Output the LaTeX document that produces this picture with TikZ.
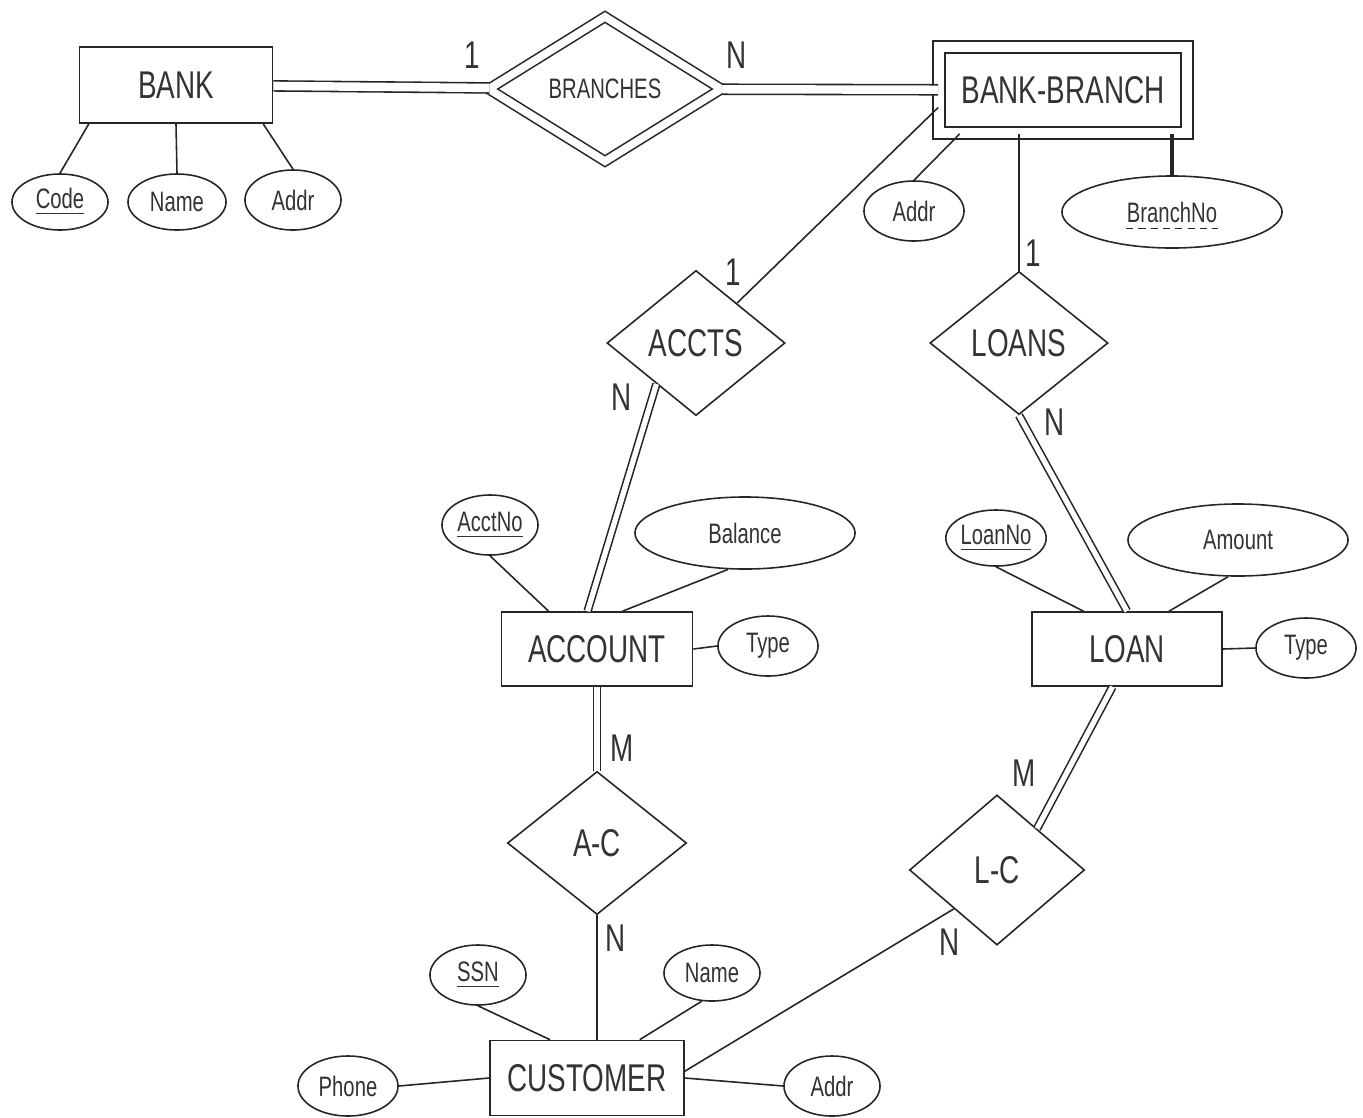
\documentclass[tikz,border=0pt]{standalone}
\usepackage{fontspec}
\setmainfont{Liberation Sans}[FakeStretch=0.72]
\usetikzlibrary{shapes.geometric}
\newcommand\entfont{\fontsize{11}{13}\selectfont}
\newcommand\attfont{\fontsize{8}{10}\selectfont}
\begin{document}
\begin{tikzpicture}[x=0.01cm, y=-0.01cm,
  line width=0.45pt, draw=black!85, text=black!80,
  entity/.style 2 args={rectangle, draw, minimum width=#1, minimum height=#2, inner sep=0pt, font=\entfont},
  weakent/.style 2 args={entity={#1}{#2}, double, double distance=3pt},
  rel/.style 2 args={diamond, draw, minimum width=#1, minimum height=#2, inner sep=0pt, font=\entfont},
  weakrel/.style 2 args={rel={#1}{#2}, double, double distance=2.2pt, font=\attfont},
  attr/.style 2 args={ellipse, draw, minimum width=#1, minimum height=#2, inner sep=0pt, font=\attfont},
  card/.style={inner sep=0pt, font=\entfont},
  dbl/.style={double, double distance=2.4pt},
  dblthin/.style={double, double distance=1.5pt},
  keyline/.style={line width=1.2pt}]

% page
\fill[white] (0,0) rectangle (1363,1117);

% entities
\node[entity={1.93cm}{0.76cm}] (bank) at (176,85) {BANK};
\node[weakent={2.48cm}{0.86cm}] (bb) at (1063,90) {BANK-BRANCH};
\node[entity={1.91cm}{0.74cm}] (account) at (597,649) {ACCOUNT};
\node[entity={1.90cm}{0.74cm}] (loan) at (1127,649) {LOAN};
\node[entity={1.94cm}{0.75cm}] (customer) at (587,1078) {CUSTOMER};

% relationships
\node[weakrel={2.33cm}{1.45cm}] (branches) at (605,89) {BRANCHES};
\node[rel={1.78cm}{1.45cm}] (accts) at (696,343) {ACCTS};
\node[rel={1.78cm}{1.43cm}] (loans) at (1019,343) {LOANS};
\node[rel={1.79cm}{1.43cm}] (ac) at (597,843) {A-C};
\node[rel={1.75cm}{1.50cm}] (lc) at (997,870) {L-C};

% attributes
\node[attr={0.96cm}{0.56cm}] (code) at (60,202) {\underline{Code}};
\node[attr={0.98cm}{0.56cm}] (bname) at (177,202) {Name};
\node[attr={0.96cm}{0.60cm}] (baddr) at (293,200) {Addr};
\node[attr={1.00cm}{0.60cm}] (braddr) at (914,211) {Addr};
\node[attr={2.20cm}{0.72cm}] (branchno) at (1172,212) {};
\node[inner sep=0pt, font=\attfont] (bnolabel) at (branchno) {BranchNo};
\draw[dashed, dash pattern=on 2pt off 1.5pt, line width=0.4pt]
  ([yshift=-1.8pt]bnolabel.base west) -- ([yshift=-1.8pt]bnolabel.base east);
\node[attr={0.96cm}{0.60cm}] (acctno) at (490,525) {\underline{AcctNo}};
\node[attr={2.20cm}{0.72cm}] (balance) at (745,533) {Balance};
\node[attr={1.00cm}{0.60cm}] (atype) at (768,646) {Type};
\node[attr={0.96cm}{0.56cm}] (loanno) at (996,538) {\underline{LoanNo}};
\node[attr={2.20cm}{0.72cm}] (amount) at (1238,540) {Amount};
\node[attr={1.00cm}{0.60cm}] (ltype) at (1306,648) {Type};
\node[attr={0.96cm}{0.60cm}] (ssn) at (478,975) {\underline{SSN}};
\node[attr={0.96cm}{0.56cm}] (cname) at (712,973) {Name};
\node[attr={1.00cm}{0.60cm}] (phone) at (348,1086) {Phone};
\node[attr={0.96cm}{0.60cm}] (caddr) at (832,1086) {Addr};

% cardinalities
\node[card] (c1) at (472,55) {1};
\node[card] (c2) at (737,55) {N};
\node[card] (c3) at (733,272) {1};
\node[card] (c4) at (622,397) {N};
\node[card] (c5) at (1033,253) {1};
\node[card] (c6) at (1055,422) {N};
\node[card] (c7) at (622,748) {M};
\node[card] (c8) at (616,938) {N};
\node[card] (c9) at (1024,773) {M};
\node[card] (c10) at (950,942) {N};

% relationship connectors
\draw[dbl] (bank) -- (branches);
\draw[dbl] (branches) -- (bb);
\draw (bb.188) -- (accts);
\draw (loans.north |- bb.south) -- (loans.north);
\draw[dblthin] (accts.226) -- (account.104);
\draw[dblthin] (loans.south) -- (loan.north);
\draw[dblthin] (account.south) -- (ac.north);
\draw (ac.south) -- (ac.south |- customer.north);
\draw[dblthin] (loan.249) -- (lc.46);
\draw (lc.222) -- (customer.4);

% attribute connectors
\draw (bank.204) -- (code.north);
\draw (bank.south) -- (bname.north);
\draw (bank.336) -- (baddr.north);
\draw (bb.203) -- (braddr.north);
\draw[keyline] (branchno.north |- bb.south) -- (branchno.north);
\draw (acctno.south) -- (account.142);
\draw (balance.245) -- (account.56);
\draw (account.east) -- (atype.west);
\draw (loanno.south) -- (loan.139);
\draw (amount.255) -- (loan.42);
\draw (loan.east) -- (ltype.west);
\draw (ssn.south) -- (customer.134);
\draw (cname.250) -- (customer.36);
\draw (phone.east) -- (customer.west);
\draw (customer.east) -- (caddr.west);
\end{tikzpicture}
\end{document}
